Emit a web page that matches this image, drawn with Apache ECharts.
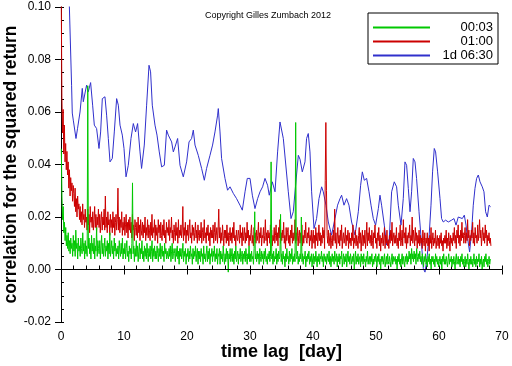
<!DOCTYPE html>
<html>
<head>
<meta charset="utf-8">
<script src="https://cdn.jsdelivr.net/npm/echarts@6/dist/echarts.min.js"></script>
<style>
html,body{margin:0;padding:0;background:#fff;}
#chart{width:512px;height:366px;}
</style>
</head>
<body>
<div id="chart"></div>
<script>
// ---- data ----
const seriesNames = ['00:03', '01:00', '1d 06:30'];
const xTicks = [0, 10, 20, 30, 40, 50, 60, 70];
const yTicks = [-0.02, 0.00, 0.02, 0.04, 0.06, 0.08, 0.10];
const lagStep = 0.1;          // day, sampling of the two short-horizon series
const greenStart = 0.05;      // first lag of 00:03 series
const redStart = 0.04;        // first lag of 01:00 series

// 00:03 (green), one row per day
const greenValues = [
0.046,0.028,0.019,0.024,0.014,0.018,0.011,0.016,0.009,0.013,
0.008,0.014,0.007,0.011,0.006,0.012,0.008,0.010,0.005,0.013,
0.007,0.011,0.005,0.015,0.008,0.010,0.004,0.012,0.007,0.009,
0.005,0.012,0.008,0.006,0.014,0.007,0.010,0.004,0.011,0.006,
0.009,0.005,0.070,0.008,0.012,0.006,0.010,0.004,0.013,0.007,
0.010,0.006,0.012,0.004,0.009,0.007,0.016,0.005,0.011,0.008,
0.006,0.011,0.004,0.009,0.013,0.006,0.010,0.005,0.008,0.012,
0.005,0.009,0.007,0.011,0.004,0.010,0.006,0.014,0.005,0.008,
0.011,0.006,0.009,0.004,0.012,0.007,0.010,0.005,0.008,0.006,
0.009,0.004,0.011,0.007,0.005,0.010,0.006,0.012,0.004,0.008,
0.006,0.010,0.004,0.008,0.011,0.005,0.007,0.003,0.009,0.006,
0.008,0.004,0.010,0.033,0.006,0.009,0.003,0.008,0.005,0.011,
0.005,0.009,0.003,0.007,0.010,0.004,0.008,0.006,0.011,0.004,
0.007,0.003,0.009,0.005,0.008,0.004,0.010,0.006,0.003,0.008,
0.005,0.009,0.004,0.007,0.011,0.003,0.008,0.005,0.009,0.004,
0.007,0.004,0.009,0.006,0.003,0.008,0.005,0.010,0.004,0.007,
0.009,0.005,0.007,0.003,0.010,0.006,0.008,0.004,0.007,0.005,
0.004,0.008,0.005,0.009,0.003,0.007,0.010,0.004,0.006,0.008,
0.006,0.003,0.008,0.005,0.009,0.004,0.007,0.002,0.008,0.005,
0.008,0.004,0.006,0.010,0.003,0.007,0.005,0.008,0.002,0.006,
0.005,0.008,0.003,0.007,0.004,0.009,0.005,0.006,0.002,0.008,
0.004,0.007,0.005,0.009,0.003,0.006,0.008,0.002,0.007,0.004,
0.007,0.003,0.008,0.005,0.006,0.002,0.009,0.004,0.006,0.003,
0.006,0.009,0.003,0.007,0.004,0.008,0.002,0.006,0.005,0.008,
0.003,0.007,0.005,0.009,0.003,0.006,0.004,0.008,0.002,0.006,
0.005,0.008,0.002,0.007,0.004,0.006,0.003,0.009,0.005,0.002,
0.006,0.003,0.008,0.004,0.007,-0.001,0.006,0.004,0.008,0.003,
0.005,0.008,0.003,0.006,0.002,0.007,0.004,0.009,0.003,0.005,
0.007,0.002,0.006,0.004,0.008,0.003,0.005,0.007,0.002,0.006,
0.004,0.007,0.003,0.008,0.005,0.002,0.006,0.004,0.009,0.003,
0.006,0.003,0.007,0.004,0.005,0.002,0.008,0.022,0.004,0.006,
0.003,0.007,0.004,0.006,0.002,0.008,0.005,0.003,0.007,0.004,
0.006,0.002,0.007,0.004,0.008,0.003,0.005,0.002,0.006,0.004,
0.007,0.003,0.005,0.041,0.004,0.006,0.002,0.007,0.003,0.005,
0.004,0.008,0.002,0.006,0.003,0.007,0.004,0.005,0.021,0.003,
0.006,0.002,0.007,0.004,0.005,0.001,0.006,0.003,0.008,0.004,
0.005,0.002,0.007,0.003,0.006,0.004,0.008,0.002,0.005,0.003,
0.006,0.003,0.056,0.005,0.004,0.007,0.002,0.005,0.003,0.006,
0.004,0.020,0.003,0.006,0.002,0.005,0.004,0.007,0.001,0.005,
0.003,0.006,0.004,0.007,0.002,0.005,0.003,0.006,0.001,0.004,
0.006,0.002,0.005,0.003,0.007,0.004,0.001,0.005,0.003,0.006,
0.002,0.005,0.004,0.007,0.003,0.005,0.001,0.006,0.004,0.003,
0.005,0.002,0.006,0.004,0.003,0.007,0.002,0.005,0.001,0.004,
0.006,0.003,0.005,0.002,0.007,0.004,0.003,0.006,0.001,0.005,
0.003,0.006,0.002,0.005,0.004,0.007,0.001,0.004,0.006,0.002,
0.005,0.003,0.006,0.001,0.004,0.007,0.003,0.005,0.002,0.006,
0.004,0.002,0.005,0.003,0.006,0.000,0.004,0.007,0.002,0.005,
0.003,0.006,0.002,0.004,0.005,0.001,0.006,0.003,0.005,0.002,
0.006,0.003,0.004,0.001,0.005,0.003,0.007,0.002,0.004,0.005,
0.002,0.005,0.003,0.006,0.001,0.004,0.002,0.005,0.003,0.006,
0.004,0.001,0.005,0.003,0.006,0.002,0.004,0.000,0.005,0.003,
0.005,0.002,0.004,0.006,0.001,0.003,0.005,0.002,0.006,0.003,
0.002,0.005,0.003,0.001,0.004,0.006,0.002,0.005,0.003,0.004,
0.005,0.002,0.004,0.000,0.005,0.003,0.006,0.002,0.004,0.001,
0.004,0.006,0.002,0.005,0.003,0.001,0.005,0.003,0.006,0.002,
0.005,0.003,0.007,0.004,0.006,0.002,0.008,0.004,0.006,0.003,
0.007,0.004,0.006,0.002,0.008,0.005,0.003,0.006,0.004,0.007,
0.003,0.005,0.002,0.006,0.004,0.001,0.005,0.003,0.006,0.002,
0.004,0.001,0.005,0.003,0.006,0.002,0.004,0.000,0.005,0.003,
0.005,0.002,0.004,0.001,0.006,0.003,0.005,0.002,0.004,0.001,
0.003,0.005,0.002,0.004,0.000,0.005,0.003,0.006,0.002,0.004,
0.002,0.005,0.003,0.001,0.004,0.006,0.002,0.004,0.003,0.005,
0.001,0.004,0.002,0.005,0.003,0.000,0.004,0.006,0.002,0.003,
0.005,0.002,0.004,0.001,0.005,0.003,0.006,0.002,0.004,0.001,
0.003,0.005,0.001,0.004,0.002,0.006,0.003,0.000,0.004,0.002,
0.005,0.002,0.004,0.001,0.003,0.006,0.002,0.004,0.001,0.005,
0.002,0.004,0.003,0.006,0.001,0.004,0.002,0.005,0.000,0.003,
0.004,0.001,0.005,0.003,0.006,0.002,0.004,0.001,0.003,0.005,
0.002,0.004
];

// 01:00 (red), one row per day
const redValues = [
0.104,0.066,0.052,0.061,0.044,0.055,0.041,0.048,0.038,0.045,
0.036,0.041,0.031,0.038,0.028,0.035,0.030,0.033,0.026,0.032,
0.029,0.024,0.031,0.022,0.027,0.020,0.028,0.023,0.025,0.019,
0.024,0.018,0.022,0.017,0.025,0.019,0.021,0.016,0.023,0.018,
0.020,0.015,0.023,0.017,0.021,0.014,0.024,0.018,0.020,0.016,
0.022,0.015,0.019,0.024,0.016,0.021,0.014,0.020,0.017,0.023,
0.016,0.021,0.014,0.019,0.022,0.015,0.020,0.017,0.023,0.015,
0.028,0.016,0.020,0.014,0.022,0.017,0.019,0.013,0.021,0.016,
0.019,0.014,0.022,0.016,0.020,0.013,0.018,0.021,0.015,0.019,
0.031,0.015,0.020,0.014,0.019,0.016,0.022,0.013,0.018,0.015,
0.020,0.013,0.017,0.021,0.014,0.018,0.012,0.019,0.015,0.020,
0.014,0.018,0.012,0.021,0.015,0.017,0.011,0.019,0.016,0.013,
0.018,0.012,0.020,0.014,0.017,0.011,0.019,0.015,0.013,0.018,
0.012,0.017,0.014,0.020,0.011,0.016,0.013,0.019,0.012,0.017,
0.015,0.011,0.018,0.013,0.021,0.012,0.016,0.014,0.019,0.011,
0.017,0.013,0.016,0.010,0.019,0.014,0.017,0.012,0.018,0.013,
0.011,0.017,0.013,0.019,0.012,0.015,0.010,0.018,0.014,0.016,
0.013,0.019,0.011,0.016,0.014,0.020,0.012,0.015,0.010,0.017,
0.014,0.011,0.018,0.013,0.016,0.010,0.019,0.012,0.015,0.013,
0.017,0.012,0.015,0.024,0.011,0.016,0.013,0.018,0.010,0.015,
0.013,0.017,0.011,0.015,0.019,0.012,0.014,0.010,0.017,0.013,
0.016,0.011,0.014,0.018,0.012,0.015,0.010,0.017,0.013,0.011,
0.015,0.012,0.018,0.010,0.014,0.016,0.011,0.019,0.012,0.014,
0.010,0.016,0.013,0.017,0.011,0.014,0.009,0.016,0.012,0.015,
0.012,0.017,0.010,0.014,0.018,0.011,0.013,0.016,0.010,0.015,
0.023,0.012,0.016,0.010,0.014,0.011,0.017,0.013,0.009,0.015,
0.012,0.015,0.010,0.017,0.011,0.014,0.009,0.013,0.016,0.011,
0.014,0.010,0.016,0.012,0.018,0.011,0.013,0.009,0.015,0.012,
0.011,0.015,0.013,0.010,0.017,0.012,0.014,0.009,0.016,0.011,
0.013,0.016,0.010,0.014,0.011,0.018,0.012,0.015,0.009,0.013,
0.011,0.014,0.017,0.010,0.013,0.009,0.016,0.012,0.014,0.010,
0.015,0.011,0.013,0.018,0.010,0.014,0.012,0.016,0.009,0.013,
0.012,0.016,0.010,0.013,0.019,0.011,0.014,0.009,0.015,0.012,
0.014,0.010,0.017,0.012,0.015,0.009,0.013,0.011,0.016,0.010,
0.013,0.017,0.011,0.014,0.009,0.016,0.012,0.019,0.010,0.014,
0.011,0.015,0.012,0.018,0.010,0.013,0.008,0.016,0.011,0.014,
0.016,0.010,0.013,0.009,0.015,0.012,0.017,0.010,0.014,0.011,
0.012,0.019,0.010,0.014,0.011,0.016,0.009,0.013,0.015,0.010,
0.014,0.011,0.017,0.009,0.013,0.010,0.015,0.012,0.018,0.011,
0.010,0.014,0.012,0.016,0.009,0.013,0.011,0.015,0.008,0.012,
0.015,0.010,0.013,0.008,0.016,0.011,0.014,0.009,0.012,0.017,
0.011,0.014,0.009,0.013,0.010,0.016,0.012,0.015,0.008,0.034,
0.056,0.030,0.013,0.010,0.015,0.009,0.012,0.014,0.008,0.011,
0.013,0.009,0.015,0.011,0.023,0.010,0.014,0.008,0.012,0.016,
0.010,0.013,0.009,0.015,0.011,0.017,0.008,0.012,0.014,0.010,
0.012,0.016,0.009,0.013,0.011,0.015,0.008,0.014,0.010,0.012,
0.009,0.014,0.011,0.017,0.008,0.012,0.010,0.015,0.009,0.013,
0.011,0.008,0.013,0.016,0.010,0.014,0.007,0.012,0.015,0.009,
0.013,0.010,0.015,0.008,0.012,0.018,0.009,0.014,0.011,0.016,
0.010,0.013,0.009,0.015,0.011,0.008,0.014,0.012,0.017,0.010,
0.012,0.008,0.014,0.011,0.016,0.009,0.013,0.007,0.012,0.010,
0.014,0.009,0.012,0.016,0.008,0.013,0.010,0.015,0.009,0.011,
0.008,0.013,0.010,0.015,0.011,0.018,0.009,0.012,0.014,0.010,
0.013,0.010,0.016,0.009,0.012,0.008,0.014,0.011,0.017,0.009,
0.011,0.015,0.009,0.019,0.012,0.014,0.010,0.016,0.008,0.013,
0.010,0.014,0.012,0.017,0.009,0.013,0.011,0.020,0.010,0.015,
0.012,0.009,0.016,0.011,0.014,0.008,0.013,0.010,0.015,0.009,
0.013,0.010,0.012,0.008,0.015,0.011,0.009,0.014,0.007,0.012,
0.010,0.014,0.009,0.012,0.007,0.013,0.010,0.016,0.008,0.011,
0.014,0.009,0.012,0.010,0.015,0.008,0.011,0.013,0.009,0.012,
0.008,0.013,0.010,0.014,0.009,0.011,0.007,0.012,0.010,0.013,
0.010,0.015,0.008,0.012,0.009,0.014,0.011,0.007,0.013,0.010,
0.012,0.009,0.014,0.011,0.016,0.010,0.013,0.008,0.015,0.012,
0.017,0.010,0.013,0.009,0.015,0.011,0.018,0.012,0.014,0.010,
0.013,0.016,0.010,0.014,0.011,0.019,0.012,0.015,0.009,0.013,
0.011,0.015,0.012,0.018,0.010,0.014,0.009,0.016,0.012,0.013,
0.010,0.017,0.011,0.014,0.019,0.012,0.015,0.009,0.013,0.016,
0.011,0.014,0.010,0.017,0.012,0.015,0.009,0.013,0.011,0.014,
0.010,0.012,0.009
];

// 1d 06:30 (blue): [lag in days, correlation]
const bluePoints = [
[1.27,0.105],[1.68,0.0702],[1.79,0.0596],[1.95,0.0569],[2.38,0.0499],[2.63,0.0538],
[3.02,0.0600],[3.38,0.0690],[3.54,0.0639],[4.06,0.0702],[4.33,0.0677],[4.70,0.0712],
[5.02,0.0626],[5.29,0.0550],[5.65,0.0537],[6.03,0.0461],[6.29,0.0524],[6.56,0.0651],
[6.98,0.0658],[7.24,0.0588],[7.51,0.0499],[7.78,0.0410],[8.14,0.0423],[8.46,0.0524],
[8.83,0.0651],[9.10,0.0626],[9.37,0.0550],[9.73,0.0512],[10.00,0.0461],[10.32,0.0353],
[10.68,0.0397],[11.11,0.0499],[11.48,0.0556],[11.84,0.0524],[12.16,0.0556],[12.54,0.0448],
[12.79,0.0385],[13.22,0.0474],[13.59,0.0626],[13.97,0.0778],[14.22,0.0753],[14.49,0.0626],
[14.92,0.0550],[15.24,0.0512],[15.60,0.0448],[15.97,0.0391],[16.40,0.0397],[16.76,0.0531],
[17.03,0.0512],[17.56,0.0486],[17.83,0.0448],[18.10,0.0467],[18.51,0.0499],[18.89,0.0397],
[19.41,0.0353],[19.94,0.0410],[20.32,0.0486],[20.73,0.0499],[21.00,0.0531],[21.27,0.0474],
[21.79,0.0435],[22.32,0.0385],[22.75,0.0340],[23.11,0.0385],[23.65,0.0435],[24.06,0.0474],
[24.44,0.0524],[24.86,0.0588],[24.97,0.0613],[25.24,0.0524],[25.49,0.0423],[26.03,0.0347],
[26.44,0.0302],[26.83,0.0315],[27.35,0.0290],[27.87,0.0270],[28.41,0.0245],[28.78,0.0226],
[29.21,0.0296],[29.57,0.0347],[30.00,0.0347],[30.37,0.0283],[30.79,0.0232],[31.21,0.0270],
[31.59,0.0296],[32.00,0.0315],[32.38,0.0347],[32.79,0.0321],[33.06,0.0283],[33.54,0.0334],
[33.97,0.0296],[34.38,0.0448],[34.76,0.0562],[35.02,0.0569],[35.29,0.0499],[36.08,0.0296],
[36.51,0.0194],[36.87,0.0220],[37.24,0.0321],[37.67,0.0435],[37.94,0.0420],[38.30,0.0372],
[38.73,0.0410],[38.98,0.0499],[39.25,0.0518],[39.52,0.0448],[39.78,0.0296],[40.16,0.0156],
[40.57,0.0194],[40.95,0.0270],[41.37,0.0315],[41.63,0.0296],[42.06,0.0245],[42.43,0.0181],
[42.95,0.0131],[43.49,0.0194],[43.90,0.0245],[44.29,0.0270],[44.54,0.0283],[44.92,0.0245],
[45.33,0.0270],[45.71,0.0245],[46.13,0.0181],[46.67,0.0131],[47.19,0.0220],[47.56,0.0321],
[47.83,0.0372],[48.14,0.0340],[48.51,0.0347],[48.89,0.0296],[49.21,0.0245],[49.57,0.0194],
[49.94,0.0169],[50.37,0.0232],[50.63,0.0283],[50.89,0.0245],[51.32,0.0169],[51.68,0.0093],
[52.11,0.0118],[52.48,0.0296],[52.90,0.0334],[53.27,0.0315],[53.54,0.0245],[53.97,0.0169],
[54.33,0.0270],[54.60,0.0410],[54.86,0.0397],[55.13,0.0309],[55.40,0.0220],[55.65,0.0296],
[55.92,0.0423],[56.19,0.0410],[56.44,0.0347],[56.83,0.0220],[57.24,0.0093],[57.51,0.0004],
[57.78,-0.0010],[58.03,0.0030],[58.41,0.0118],[58.73,0.0245],[58.98,0.0372],[59.25,0.0461],
[59.46,0.0448],[59.78,0.0372],[60.16,0.0270],[60.41,0.0194],[60.68,0.0181],[61.05,0.0188],
[61.48,0.0181],[62.00,0.0188],[62.38,0.0194],[62.70,0.0169],[63.06,0.0200],[63.33,0.0207],
[63.70,0.0194],[64.02,0.0207],[64.29,0.0169],[64.54,0.0118],[64.86,0.0067],[65.17,0.0143],
[65.44,0.0245],[65.71,0.0309],[65.97,0.0347],[66.24,0.0360],[66.51,0.0334],[66.87,0.0315],
[67.14,0.0296],[67.40,0.0220],[67.67,0.0200],[67.94,0.0245],[68.19,0.0239]
];

// ---- build ----
const greenData = greenValues.map((v, i) => [+(greenStart + i * lagStep).toFixed(3), v]);
const redData = redValues.map((v, i) => [+(redStart + i * lagStep).toFixed(3), v]);

const colors = { green: '#00c800', red: '#cc0000', blue: '#3030cc' };
const FONT = '"Liberation Sans", Arial, sans-serif';

const chart = echarts.init(document.getElementById('chart'), null, { renderer: 'canvas' });
chart.setOption({
  animation: false,
  backgroundColor: '#fff',
  title: {
    text: 'Copyright Gilles Zumbach 2012',
    left: 205, top: 11, padding: 0,
    textStyle: { fontFamily: FONT, fontSize: 9, fontWeight: 'normal', color: '#000' }
  },
  legend: {
    data: seriesNames,
    orient: 'vertical',
    left: 368, top: 13,
    padding: [8, 5, 2, 4],
    itemGap: 1,
    itemWidth: 57, itemHeight: 14,
    borderColor: '#000', borderWidth: 1,
    backgroundColor: '#fff',
    itemStyle: { opacity: 0 },
    formatter: n => '{a|' + n + '}',
    textStyle: {
      fontFamily: FONT, fontSize: 13, color: '#000',
      rich: { a: { width: 58, align: 'right', fontFamily: FONT, fontSize: 13, color: '#000' } }
    }
  },
  grid: { left: 61, right: 10, top: 7, bottom: 44, containLabel: false, outerBoundsMode: 'none' },
  xAxis: [{
    type: 'value', min: xTicks[0], max: xTicks[xTicks.length - 1], interval: 10,
    position: 'bottom',
    name: 'time lag  [day]', nameLocation: 'middle', nameGap: 21, nameMoveOverlap: false,
    nameTextStyle: { fontFamily: FONT, fontSize: 18, fontWeight: 'bold', color: '#000' },
    axisLine: { show: true, lineStyle: { color: '#000', width: 1 } },
    axisTick: { show: true, length: 5, inside: false, lineStyle: { color: '#000' } },
    axisLabel: { fontFamily: FONT, fontSize: 12, color: '#000', margin: 9 },
    splitLine: { show: false }
  }, {
    type: 'value', min: 0, max: 70, interval: 2, position: 'bottom', offset: 0,
    axisLine: { show: false },
    axisTick: { show: true, length: 4, inside: true, lineStyle: { color: '#000' } },
    axisLabel: { show: false }, splitLine: { show: false }
  }],
  yAxis: [{
    type: 'value', min: yTicks[0], max: yTicks[yTicks.length - 1], interval: 0.02,
    position: 'left',
    name: 'correlation for the squared return', nameLocation: 'middle', nameGap: 41,
    nameMoveOverlap: false,
    nameRotate: 90,
    nameTextStyle: { fontFamily: FONT, fontSize: 17.5, fontWeight: 'bold', color: '#000' },
    axisLine: { show: true, lineStyle: { color: '#000', width: 1 } },
    axisTick: { show: true, length: 6, inside: false, lineStyle: { color: '#000' } },
    axisLabel: { fontFamily: FONT, fontSize: 12, color: '#000', margin: 10, formatter: v => v.toFixed(2) },
    splitLine: { show: false }
  }, {
    type: 'value', min: -0.02, max: 0.10, interval: 0.005, position: 'left', offset: 0,
    axisLine: { show: false },
    axisTick: { show: true, length: 3, inside: true, lineStyle: { color: '#000' } },
    axisLabel: { show: false }, splitLine: { show: false }
  }],
  series: [
    {
      name: seriesNames[2], type: 'line', data: bluePoints,
      xAxisIndex: 0, yAxisIndex: 0,
      symbol: 'none', lineStyle: { color: colors.blue, width: 1 }, itemStyle: { color: colors.blue },
      markLine: {
        silent: true, symbol: 'none', label: { show: false },
        lineStyle: { color: '#000', type: 'solid', width: 1 },
        data: [{ yAxis: 0 }]
      }
    },
    {
      name: seriesNames[1], type: 'line', data: redData,
      xAxisIndex: 0, yAxisIndex: 0,
      symbol: 'none', lineStyle: { color: colors.red, width: 1 }, itemStyle: { color: colors.red }
    },
    {
      name: seriesNames[0], type: 'line', data: greenData,
      xAxisIndex: 0, yAxisIndex: 0,
      symbol: 'none', lineStyle: { color: colors.green, width: 1 }, itemStyle: { color: colors.green }
    }
  ]
});
</script>
</body>
</html>
